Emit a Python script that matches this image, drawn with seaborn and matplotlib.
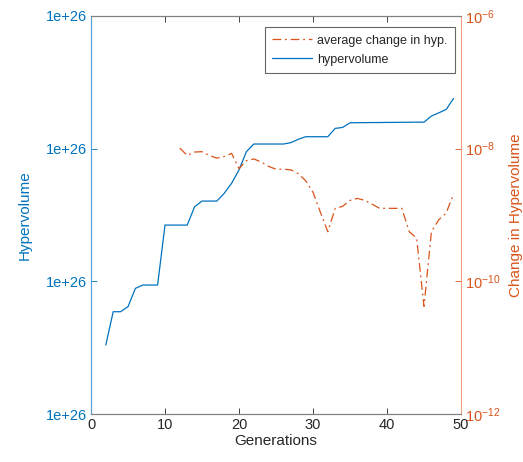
import matplotlib
matplotlib.use("Agg")
import matplotlib.pyplot as plt
import seaborn as sns
import pandas as pd
from matplotlib.ticker import FixedLocator, FixedFormatter, LogFormatterMathtext, NullLocator

# ---- data ----
hv_gen = list(range(2, 50))
hv_val = [0.52, 0.771, 0.771, 0.809, 0.947, 0.972, 0.972, 0.972, 1.424, 1.424,
          1.424, 1.424, 1.562, 1.605, 1.605, 1.605, 1.663, 1.739, 1.84, 1.977,
          2.035, 2.035, 2.035, 2.035, 2.035, 2.045, 2.07, 2.09, 2.09, 2.09,
          2.09, 2.153, 2.16, 2.195, 2.196, 2.196, 2.197, 2.197, 2.198, 2.198,
          2.199, 2.199, 2.2, 2.2, 2.246, 2.27, 2.296, 2.379]

ch_gen = list(range(12, 50))
ch_val = [1.02e-8, 7.9e-9, 8.9e-9, 9.0e-9, 7.9e-9, 7.2e-9, 7.6e-9, 8.5e-9,
          5.0e-9, 6.6e-9, 7.0e-9, 6.3e-9, 5.4e-9, 4.9e-9, 4.9e-9, 4.8e-9,
          4.2e-9, 3.3e-9, 2.2e-9, 1.1e-9, 5.6e-10, 1.26e-9, 1.35e-9, 1.66e-9,
          1.78e-9, 1.66e-9, 1.45e-9, 1.26e-9, 1.26e-9, 1.26e-9, 1.26e-9,
          5.6e-10, 4.5e-10, 4.2e-11, 5.6e-10, 8.5e-10, 1.07e-9, 2.1e-9]

left_ticks = [0, 1, 2, 3]
left_labels = ["1e+26", "1e+26", "1e+26", "1e+26"]
right_ticks = [1e-12, 1e-10, 1e-8, 1e-6]
x_ticks = [0, 10, 20, 30, 40, 50]

BLUE = "#0072BD"
ORANGE = "#D95319"
GRAY = "#262626"

sns.set_style("white")
plt.rcParams["font.family"] = ["Liberation Sans", "DejaVu Sans"]
plt.rcParams["xtick.direction"] = "in"
plt.rcParams["ytick.direction"] = "in"

fig = plt.figure(figsize=(5.23, 4.62), dpi=100)
ax = fig.add_axes([91 / 523, 1 - 414 / 462, 370 / 523, 398 / 462])
ax2 = ax.twinx()

df_hv = pd.DataFrame({"gen": hv_gen, "hv": hv_val})
df_ch = pd.DataFrame({"gen": ch_gen, "ch": ch_val})

sns.lineplot(data=df_hv, x="gen", y="hv", ax=ax, color=BLUE, linewidth=0.9,
             label="hypervolume", legend=False)
sns.lineplot(data=df_ch, x="gen", y="ch", ax=ax2, color=ORANGE, linewidth=0.9,
             linestyle=(0, (7, 3, 1.5, 3)), label="average change in hyp.", legend=False)

ax.set_xlim(0, 50)
ax.set_ylim(0, 3)
ax.yaxis.set_major_locator(FixedLocator(left_ticks))
ax.yaxis.set_major_formatter(FixedFormatter(left_labels))
ax.set_xticks(x_ticks)
ax.tick_params(axis="x", colors=GRAY, labelsize=10.5, length=4, width=0.6,
               top=True, bottom=True, labelcolor=GRAY, pad=3)
ax.tick_params(axis="y", colors=BLUE, labelsize=10.5, length=4, width=0.6, pad=3)
ax.set_xlabel("Generations", fontsize=11, color=GRAY, labelpad=1)
ax.set_ylabel("Hypervolume", fontsize=11, color=BLUE, labelpad=10)

ax2.set_yscale("log")
ax2.set_ylim(1e-12, 1e-6)
ax2.yaxis.set_major_locator(FixedLocator(right_ticks))
ax2.yaxis.set_major_formatter(LogFormatterMathtext())
ax2.yaxis.set_minor_locator(NullLocator())
ax2.tick_params(axis="y", colors=ORANGE, labelsize=10.5, length=4, width=0.6, pad=3)
ax2.set_ylabel("Change in Hypervolume", fontsize=11, color=ORANGE, labelpad=6)
ax2.set_xlim(0, 50)

for a in (ax, ax2):
    for s in a.spines.values():
        s.set_linewidth(0.8)
    a.spines["top"].set_color("#808080")
    a.spines["bottom"].set_color("#808080")
ax.spines["left"].set_color("#5BA3D6")
ax2.spines["left"].set_color("#5BA3D6")
ax2.spines["right"].set_color("#F0A080")
ax.spines["right"].set_visible(False)

h1, l1 = ax2.get_legend_handles_labels()
h2, l2 = ax.get_legend_handles_labels()
leg = ax2.legend(h1 + h2, l1 + l2, loc="upper right",
                 bbox_to_anchor=(0.984, 0.972), borderaxespad=0, fontsize=9,
                 frameon=True, fancybox=False, edgecolor="#404040",
                 handlelength=3.2, borderpad=0.6, labelspacing=0.55,
                 handletextpad=0.4)
leg.get_frame().set_linewidth(0.8)
for t in leg.get_texts():
    t.set_color(GRAY)

fig.savefig("out.png", dpi=100)
